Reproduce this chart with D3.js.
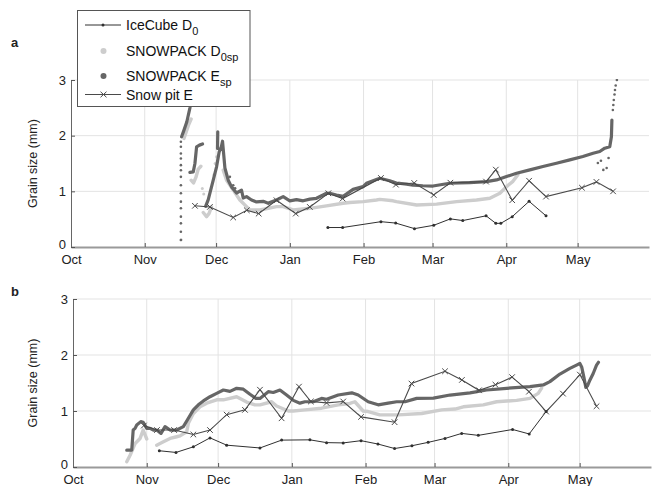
<!DOCTYPE html>
<html>
<head>
<meta charset="utf-8">
<script src="https://cdn.jsdelivr.net/npm/d3@7"></script>
<style>
  body { margin: 0; background: #fff; }
  text { font-family: "Liberation Sans", Arial, sans-serif; }
</style>
</head>
<body>
<svg id="fig" width="652" height="486"></svg>
<script>
// Season axis: days counted from 1 October (leap-year winter)
const monthDays = [0, 31, 61, 92, 123, 152, 183, 213];
const monthLabels = ["Oct", "Nov", "Dec", "Jan", "Feb", "Mar", "Apr", "May"];
const yTicks = [0, 1, 2, 3];
const seasonEnd = 243;

// ---- Site a ----  [day, grain size mm]; null marks a gap in a model run
const aIceCube = [[108.0,0.35],[114.2,0.35],[130.3,0.455],[136.5,0.43],[144.4,0.33],[152.5,0.39],
  [159.5,0.505],[164.7,0.475],[174.5,0.56],[178.6,0.425],[180.7,0.425],[185.5,0.545],[192.6,0.82],[199.7,0.56]];

const aSnowPit = [[52.1,0.74],[58.4,0.72],[68.2,0.53],[73.9,0.66],[78.9,0.60],[86.4,0.84],[94.5,0.60],
  [100.4,0.72],[108.2,0.965],[114.2,0.87],[130.3,1.24],[136.6,1.12],[144.3,1.15],[152.5,0.935],
  [159.5,1.155],[174.5,1.175],[178.6,1.39],[185.5,0.84],[192.6,1.19],[199.7,0.905],[214.8,1.065],
  [220.9,1.17],[227.9,1.0]];

const aEsp = [
  [46.5,1.98],[47.5,2.1],[48.7,2.25],[50.0,2.5],[51.3,2.85],[52.1,3.0], null,
  [50.0,1.34],[51.4,1.35],[52.1,1.5],[52.8,1.8],[54.0,1.83],[55.3,1.85], null,
  [61.6,1.77],[61.7,2.07], null,
  [56.6,0.73],[57.7,0.85],[59.8,1.2],[61.2,1.44],[62.3,1.71],[63.2,1.8],[63.7,1.9],[64.7,1.42],
  [66.1,1.2],[67.5,1.08],[69.6,0.97],[71.7,1.02],[72.4,0.88],[73.8,0.905],[75.9,0.845],[78.0,0.81],
  [80.8,0.82],[82.9,0.785],[83.6,0.80],[86.4,0.845],[89.2,0.905],[92.0,0.83],[94.8,0.85],[97.6,0.83],
  [100.4,0.86],[103.2,0.875],[106.0,0.935],[107.4,0.965],[108.8,0.965],[111.6,0.935],[114.4,0.91],
  [118.6,1.035],[122.8,1.085],[124.2,1.145],[129.8,1.235],[134.0,1.19],[136.8,1.15],[141.1,1.13],
  [143.8,1.11],[147.9,1.10],[152.2,1.095],[159.2,1.145],[167.6,1.155],[174.7,1.175],[178.9,1.205],
  [183.1,1.265],[187.3,1.325],[192.9,1.385],[198.4,1.445],[204.1,1.505],[209.7,1.565],[215.2,1.625],
  [219.5,1.685],[222.3,1.715],[224.4,1.775],[226.5,1.80],[227.2,1.98],[227.4,2.28]];

const aEspDots = [[46.2,0.125],[46.2,0.275],[46.2,0.425],[46.2,0.545],[46.2,0.695],[46.2,0.815],
  [46.2,0.965],[46.2,1.11],[46.2,1.26],[46.2,1.38],[46.2,1.47],[46.2,1.59],[46.2,1.68],[46.2,1.80],
  [46.2,1.89],[66.8,1.26],[68.2,1.11],[69.0,1.055],[221.5,1.51],[222.8,1.55],[223.8,1.385],[225.2,1.42],
  [226.0,1.6],[227.8,2.46],[228.0,2.55],[228.2,2.64],[228.5,2.74],[228.7,2.82],[229.0,2.9],[229.5,3.0]];

const aD0sp = [
  [47.5,1.95],[49.5,2.2],[50.5,2.3], null,
  [50.5,1.2],[51.5,1.15],[52.5,1.25],[53.5,1.4],[54.6,1.45], null,
  [55.6,0.62],[57.0,0.545],[58.0,0.6],[59.1,0.72], null,
  [64.0,1.38],[65.4,1.2],[68.2,1.025],[71.0,0.845],[73.8,0.725],[75.2,0.665],[79.4,0.665],[86.4,0.725],
  [89.2,0.725],[93.4,0.665],[100.4,0.695],[107.4,0.74],[114.4,0.785],[117.2,0.80],[122.8,0.815],
  [128.4,0.845],[129.8,0.855],[135.4,0.83],[136.8,0.815],[145.3,0.755],[153.7,0.77],[162.1,0.815],
  [170.5,0.845],[176.1,0.875],[180.3,0.965],[183.1,1.085],[185.8,1.18],[187.9,1.3]];

const aD0spDots = [[46.3,0.13],[55.2,1.05],[55.8,0.95],[61.2,1.62],[60.6,1.5],[60.1,1.3]];

// ---- Site b ----
const bIceCube = [[36.3,0.29],[43.3,0.26],[50.6,0.36],[57.6,0.52],[64.6,0.39],[78.6,0.34],[87.7,0.48],
  [99.6,0.485],[106.6,0.435],[113.6,0.43],[121.1,0.47],[128.2,0.41],[135.2,0.33],[142.5,0.38],
  [149.3,0.44],[156.4,0.51],[163.4,0.60],[170.4,0.565],[184.8,0.67],[191.8,0.59],[198.9,0.99]];

const bSnowPit = [[29.8,0.74],[35.3,0.66],[42.5,0.66],[50.6,0.58],[57.6,0.66],[64.6,0.935],[72.3,1.02],
  [78.6,1.38],[87.7,0.87],[95.0,1.435],[100.0,1.17],[106.6,1.145],[113.6,1.17],[121.1,0.895],
  [135.2,0.80],[142.3,1.49],[156.4,1.71],[163.5,1.555],[170.7,1.37],[177.6,1.47],[184.6,1.605],
  [191.7,1.345],[198.9,0.99],[206.0,1.31],[213.1,1.65],[220.1,1.085]];

const bEsp = [[22.6,0.30],[24.7,0.30],[25.3,0.66],[26.1,0.69],[26.8,0.75],[28.5,0.81],[29.5,0.80],
  [31.0,0.69],[32.4,0.69],[33.8,0.66],[35.2,0.66],[37.0,0.60],[38.7,0.72],[40.8,0.66],[43.6,0.66],
  [46.4,0.72],[48.5,0.87],[50.6,1.02],[52.7,1.11],[54.8,1.18],[57.6,1.255],[60.4,1.315],[63.2,1.375],
  [66.0,1.35],[68.8,1.405],[71.6,1.39],[74.4,1.30],[76.9,1.225],[78.6,1.225],[82.1,1.345],[84.2,1.33],
  [87.0,1.375],[89.8,1.285],[92.6,1.19],[95.4,1.14],[97.5,1.165],[101.0,1.165],[104.5,1.225],
  [106.6,1.21],[111.5,1.285],[117.2,1.325],[119.9,1.285],[124.1,1.165],[128.3,1.11],[132.5,1.14],
  [136.1,1.165],[139.6,1.165],[144.5,1.225],[151.5,1.23],[158.5,1.285],[166.9,1.325],[173.9,1.375],
  [182.3,1.405],[192.1,1.435],[197.7,1.465],[200.5,1.525],[204.7,1.66],[208.9,1.76],[211.7,1.82],
  [213.1,1.85],[213.9,1.78],[214.8,1.60],[215.6,1.42],[216.3,1.45],[217.3,1.55],[218.7,1.67],
  [220.1,1.82],[220.9,1.87]];

const bD0sp = [[22.6,0.095],[24.0,0.21],[26.1,0.42],[28.2,0.51],[29.5,0.66],[31.0,0.50], null,
  [35.2,0.39],[38.0,0.45],[40.8,0.51],[43.6,0.54],[45.0,0.555],[47.8,0.63],[48.5,0.78],[50.6,0.955],
  [53.4,1.075],[56.2,1.14],[60.4,1.2],[63.2,1.2],[68.8,1.255],[73.0,1.16],[76.5,1.11],[78.6,1.11],
  [83.5,1.165],[85.6,1.09],[90.5,1.0],[92.6,1.0],[97.5,1.02],[104.5,1.05],[111.5,1.11],[116.4,1.135],
  [118.5,1.165],[122.0,1.0],[124.1,0.99],[129.0,0.93],[136.7,0.93],[146.6,0.955],[155.0,1.02],
  [160.6,1.035],[164.1,1.075],[172.5,1.11],[178.1,1.165],[186.5,1.19],[192.1,1.225],[195.6,1.315],
  [197.0,1.41]];

const legendItems = [
  { name: "IceCube D", sub: "0", kind: "ice" },
  { name: "SNOWPACK D", sub: "0sp", kind: "light" },
  { name: "SNOWPACK E", sub: "sp", kind: "dark" },
  { name: "Snow pit E", sub: "", kind: "pit" }
];

const COL = { light: "#cdcdcd", dark: "#666666", pit: "#4a4a4a", ice: "#303030", grid: "#e3e3e3" };

const svg = d3.select("#fig");

function drawPanel(p) {
  const x = d3.scaleLinear().domain([0, seasonEnd]).range([p.x0, p.x1]);
  const y = d3.scaleLinear().domain([0, 3]).range([p.yb, p.yt]);
  const g = svg.append("g");
  const clipId = "clip-" + p.label;
  svg.append("clipPath").attr("id", clipId).append("rect")
    .attr("x", p.x0).attr("y", p.yt - 1).attr("width", p.x1 - p.x0).attr("height", p.yb - p.yt + 1);

  // grid
  g.selectAll(".vg").data(monthDays.slice(1)).join("line")
    .attr("x1", d => x(d)).attr("x2", d => x(d)).attr("y1", p.yt).attr("y2", p.yb)
    .attr("stroke", COL.grid).attr("stroke-width", 1);
  g.selectAll(".hg").data(yTicks.slice(1)).join("line")
    .attr("x1", p.x0).attr("x2", p.x1).attr("y1", d => y(d)).attr("y2", d => y(d))
    .attr("stroke", COL.grid).attr("stroke-width", 1);

  // axes
  const xAxis = d3.axisBottom(x).tickValues(monthDays).tickFormat((d, i) => monthLabels[i])
    .tickSizeInner(-4).tickSizeOuter(0).tickPadding(8);
  const gx = g.append("g").attr("transform", `translate(0,${p.yb})`).call(xAxis);
  gx.select(".domain").attr("stroke", "#9a9a9a").attr("stroke-width", 2);
  gx.selectAll(".tick line").attr("stroke", "#555");
  gx.selectAll("text").attr("font-size", 13).attr("fill", "#222")
    .style("font-family", "'Liberation Sans', Arial, sans-serif");

  const yAxis = d3.axisLeft(y).tickValues(yTicks).tickFormat(d3.format("d"))
    .tickSizeInner(-4).tickSizeOuter(0).tickPadding(5);
  const gy = g.append("g").attr("transform", `translate(${p.x0},0)`).call(yAxis);
  gy.select(".domain").attr("stroke", "#666").attr("stroke-width", 1);
  gy.selectAll(".tick line").attr("stroke", "#555");
  gy.selectAll("text").attr("font-size", 13).attr("fill", "#222")
    .style("font-family", "'Liberation Sans', Arial, sans-serif")
    .attr("dy", d => d === 0 ? "0.1em" : "0.32em");

  g.append("text").attr("transform", `translate(${p.ylabX},${(p.yt + p.yb) / 2}) rotate(-90)`)
    .attr("text-anchor", "middle").attr("font-size", 12.5).attr("fill", "#222").text("Grain size (mm)");
  g.append("text").attr("x", p.labX).attr("y", p.labY).attr("font-size", 13).attr("font-weight", "bold")
    .attr("fill", "#222").text(p.label);

  const plot = g.append("g").attr("clip-path", `url(#${clipId})`);
  const line = d3.line().defined(d => d !== null).x(d => x(d[0])).y(d => y(d[1]));

  plot.append("path").datum(p.light).attr("d", line).attr("fill", "none")
    .attr("stroke", COL.light).attr("stroke-width", 3.4).attr("stroke-linejoin", "round").attr("stroke-linecap", "round");
  plot.selectAll(".ld").data(p.lightDots || []).join("circle")
    .attr("cx", d => x(d[0])).attr("cy", d => y(d[1])).attr("r", 1.5).attr("fill", COL.light);
  plot.append("path").datum(p.dark).attr("d", line).attr("fill", "none")
    .attr("stroke", COL.dark).attr("stroke-width", 3.2).attr("stroke-linejoin", "round").attr("stroke-linecap", "round");
  plot.selectAll(".dd").data(p.darkDots || []).join("circle")
    .attr("cx", d => x(d[0])).attr("cy", d => y(d[1])).attr("r", 1.3).attr("fill", COL.dark);

  plot.append("path").datum(p.pit).attr("d", line).attr("fill", "none")
    .attr("stroke", COL.pit).attr("stroke-width", 1.1);
  const s = 2.8;
  plot.selectAll(".pm").data(p.pit).join("path")
    .attr("d", d => `M${x(d[0]) - s},${y(d[1]) - s}L${x(d[0]) + s},${y(d[1]) + s}M${x(d[0]) - s},${y(d[1]) + s}L${x(d[0]) + s},${y(d[1]) - s}`)
    .attr("stroke", COL.pit).attr("stroke-width", 1).attr("fill", "none");

  plot.append("path").datum(p.ice).attr("d", line).attr("fill", "none")
    .attr("stroke", COL.ice).attr("stroke-width", 1);
  plot.selectAll(".im").data(p.ice).join("circle")
    .attr("cx", d => x(d[0])).attr("cy", d => y(d[1])).attr("r", 1.5).attr("fill", COL.ice);
}

drawPanel({ label: "a", x0: 71, x1: 649, yt: 80, yb: 247, ylabX: 37, labX: 11, labY: 47,
  light: aD0sp, lightDots: aD0spDots, dark: aEsp, darkDots: aEspDots, pit: aSnowPit, ice: aIceCube });
drawPanel({ label: "b", x0: 73, x1: 651, yt: 299, yb: 467, ylabX: 37, labX: 11, labY: 296,
  light: bD0sp, dark: bEsp, pit: bSnowPit, ice: bIceCube });

// legend
const lg = svg.append("g");
lg.append("rect").attr("x", 77.5).attr("y", 10.5).attr("width", 172.5).attr("height", 96)
  .attr("fill", "#fff").attr("stroke", "#555").attr("stroke-width", 1);
const rowY = [25, 51, 76, 94.5];
legendItems.forEach((it, i) => {
  const cy = rowY[i];
  if (it.kind === "ice" || it.kind === "pit") {
    lg.append("line").attr("x1", 85).attr("x2", 121).attr("y1", cy).attr("y2", cy)
      .attr("stroke", it.kind === "ice" ? COL.ice : COL.pit).attr("stroke-width", 1);
  }
  if (it.kind === "ice") lg.append("circle").attr("cx", 103).attr("cy", cy).attr("r", 1.5).attr("fill", COL.ice);
  if (it.kind === "light") lg.append("circle").attr("cx", 103.5).attr("cy", cy).attr("r", 3).attr("fill", COL.light);
  if (it.kind === "dark") lg.append("circle").attr("cx", 103.5).attr("cy", cy).attr("r", 3).attr("fill", COL.dark);
  if (it.kind === "pit") lg.append("path")
    .attr("d", `M${100.5},${cy - 2.8}L${106.5},${cy + 2.8}M${100.5},${cy + 2.8}L${106.5},${cy - 2.8}`)
    .attr("stroke", COL.pit).attr("stroke-width", 1);
  const t = lg.append("text").attr("x", 126).attr("y", cy + 5).attr("font-size", 14).attr("fill", "#111");
  t.append("tspan").text(it.name);
  if (it.sub) t.append("tspan").attr("font-size", 11).attr("dy", 5).text(it.sub);
});
</script>
</body>
</html>
